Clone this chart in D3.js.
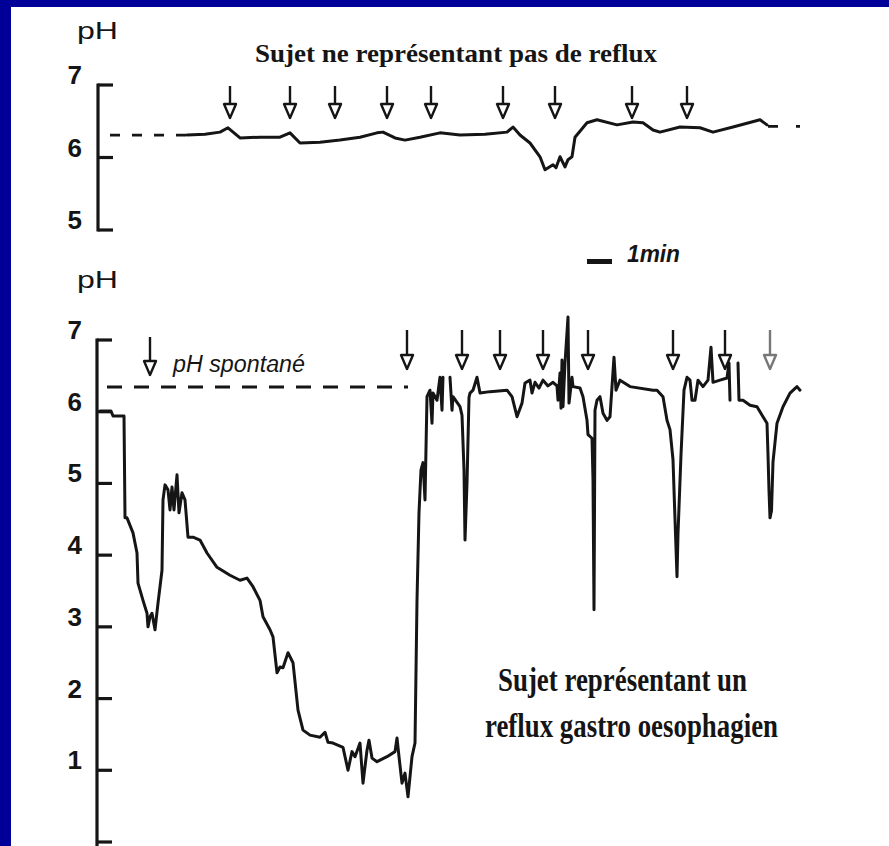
<!DOCTYPE html>
<html>
<head>
<meta charset="utf-8">
<script src="https://cdn.jsdelivr.net/npm/d3@7"></script>
<style>
  html, body { margin: 0; padding: 0; background: #fff; }
  svg { display: block; }
</style>
</head>
<body>
<svg id="chart" width="889" height="846"></svg>
<script>
// ---------------- DATA ----------------
// Top panel: subject without reflux (time in minutes, pH)
const topTime = [3.48, 4.20, 4.80, 5.12, 5.60, 6.40, 7.20, 7.60, 8.00, 8.80, 9.60, 10.40, 11.08, 11.32, 11.80, 12.20, 12.80, 13.60, 14.40, 15.40, 16.28, 16.52, 16.80, 17.20, 17.60, 17.80, 18.12, 18.24, 18.40, 18.60, 18.72, 18.88, 19.00, 19.48, 19.88, 20.68, 21.32, 21.72, 22.12, 22.40, 23.20, 24.00, 24.52, 25.32, 26.40, 26.68];
const topPH   = [6.31, 6.32, 6.35, 6.41, 6.27, 6.28, 6.28, 6.34, 6.20, 6.21, 6.24, 6.28, 6.34, 6.35, 6.27, 6.24, 6.28, 6.34, 6.31, 6.32, 6.35, 6.42, 6.31, 6.20, 6.01, 5.83, 5.90, 5.86, 6.01, 5.87, 5.97, 6.01, 6.28, 6.48, 6.52, 6.45, 6.49, 6.48, 6.38, 6.35, 6.42, 6.41, 6.35, 6.42, 6.52, 6.45];
const topArrows = [5.2, 7.6, 9.4, 11.48, 13.24, 16.12, 18.2, 21.28, 23.48];
const topSpontStart = [0.4, 3.48];
const topSpontEnd = [26.72, 28.0];
const topSpontPH = 6.31;
const topSpontEndPH = 6.43;
const topTicks = [5, 6, 7];

// Bottom panel: subject with gastro-oesophageal reflux (null = pen lifted)
const botTime = [0.00, 0.44, 0.52, 0.96, 1.00, 1.08, 1.32, 1.48, 1.52, 1.72, 1.88, 1.92, 2.00, 2.08, 2.20, 2.32, 2.48, 2.52, 2.60, 2.72, 2.80, 2.88, 2.96, 3.08, 3.16, 3.28, 3.40, 3.52, 3.72, 4.00, 4.28, 4.68, 5.20, 5.60, 5.88, 6.12, 6.40, 6.52, 6.80, 6.92, 7.08, 7.20, 7.32, 7.52, 7.72, 7.92, 8.12, 8.40, 8.80, 9.00, 9.12, 9.32, 9.72, 9.92, 10.08, 10.20, 10.40, 10.52, 10.68, 10.76, 10.88, 11.08, 11.48, 11.80, 11.88, 11.96, 12.08, 12.20, 12.32, 12.48, 12.60, 12.68, 12.76, 12.84, 12.92, 13.00, 13.08, 13.20, 13.28, 13.32, 13.48, 13.60, 13.68, 13.72, 13.86, 14.00, 14.08, 14.12, 14.40, 14.48, 14.56, 14.60, 14.68, 14.76, 14.80, 14.92, 15.08, 15.20, 15.60, 16.28, 16.48, 16.68, 16.88, 17.00, 17.20, 17.28, 17.40, 17.56, 17.72, 17.92, 18.12, 18.28, 18.32, 18.40, 18.44, 18.48, 18.52, 18.60, 18.72, 18.76, 18.88, 18.92, 19.20, 19.32, 19.48, 19.52, 19.68, 19.72, 19.76, 19.80, 19.88, 20.00, 20.12, 20.28, 20.40, 20.48, 20.56, 20.64, 20.80, 21.20, 22.12, 22.28, 22.52, 22.68, 22.80, 22.92, 23.00, 23.08, 23.12, 23.24, 23.36, 23.48, 23.60, 23.68, 23.80, 23.92, 24.12, 24.32, 24.44, 24.52, 24.80, 25.08, 25.16, 25.20, 25.36, 25.52, 25.56, 25.72, 26.00, 26.28, 26.52, 26.68, 26.72, 26.76, 26.80, 26.86, 26.92, 27.08, 27.32, 27.60, 27.88, 28.00];
const botPH   = [6.01, 6.01, 5.94, 5.94, 4.52, 4.52, 4.31, 4.03, 3.61, 3.37, 3.19, 3.00, 3.14, 3.19, 2.96, 3.33, 3.79, 4.77, 4.98, 4.91, 4.63, 4.95, 4.63, 5.12, 4.59, 4.87, 4.77, 4.25, 4.25, 4.21, 4.03, 3.83, 3.72, 3.65, 3.68, 3.56, 3.37, 3.14, 2.96, 2.86, 2.36, 2.44, 2.43, 2.64, 2.50, 1.84, 1.56, 1.49, 1.46, 1.53, 1.39, 1.38, 1.32, 1.00, 1.26, 1.19, 1.38, 0.82, 1.28, 1.42, 1.17, 1.12, 1.19, 1.26, 1.45, 1.19, 0.82, 0.96, 0.63, 1.19, 1.38, 3.37, 4.59, 5.19, 5.29, 4.77, 6.21, 6.30, 5.84, 6.26, 6.16, 6.48, 6.02, 6.48, null, 6.48, 6.02, 6.21, 6.07, 5.95, 5.19, 4.21, 5.00, 6.20, 6.26, 6.30, 6.48, 6.26, 6.28, 6.30, 6.21, 5.93, 6.12, 6.40, 6.44, 6.26, 6.41, 6.33, 6.44, 6.36, 6.41, 6.36, 6.16, 6.54, 6.05, 6.72, 6.07, 6.68, 7.32, 6.12, 6.48, 6.35, 6.33, 6.21, 5.88, 5.68, 5.63, 5.05, 3.24, 6.02, 6.16, 6.21, 5.98, 5.88, 5.93, 6.35, 6.76, 6.30, 6.44, 6.35, 6.30, 6.30, 6.21, 5.88, 5.75, 5.33, 4.50, 3.70, 4.30, 5.40, 6.30, 6.48, 6.44, 6.16, 6.16, 6.44, 6.35, 6.44, 6.90, 6.41, 6.44, 6.47, 6.68, 6.16, null, 6.68, 6.16, 6.16, 6.09, 6.07, 5.93, 5.84, 5.40, 4.90, 4.52, 4.62, 5.30, 5.84, 6.07, 6.26, 6.35, 6.30];
const botArrows = [2.0, 12.28, 14.48, 16.0, 17.72, 19.52, 22.92, 25.0, 26.8];
const botArrowGrey = [false, false, false, false, false, false, false, false, true];
const botSpont = [0.28, 12.32];
const botSpontPH = 6.345;
const botTicks = [0, 1, 2, 3, 4, 5, 6, 7];
const botTickLabels = ["", "1", "2", "3", "4", "5", "6", "7"];

const scaleBarStart = 19.48; // 1 minute bar
const titleTop = "Sujet ne représentant pas de reflux";
const titleBot = ["Sujet représentant un", "reflux gastro oesophagien"];

// ---------------- DRAW ----------------
const svg = d3.select("#chart");
const W = 889, H = 846;

svg.append("rect").attr("width", W).attr("height", H).attr("fill", "#fff");
// slide border (blue)
svg.append("rect").attr("x", 0).attr("y", 0).attr("width", W).attr("height", 7).attr("fill", "#000099");
svg.append("rect").attr("x", 0).attr("y", 0).attr("width", 11).attr("height", H).attr("fill", "#000099");

const x = d3.scaleLinear().domain([0, 31]).range([100, 875]);
const yTop = d3.scaleLinear().domain([5, 7]).range([230, 85]);
const yBot = d3.scaleLinear().domain([0, 7]).range([842, 340]);

const sansFont = "'Liberation Sans', Arial, sans-serif";
const serifFont = "'Liberation Serif', 'Times New Roman', serif";
const ink = "#151515";

// ---- axes ----
function drawAxis(scale, ticks, labels, axisX, extendTo) {
  const g = svg.append("g");
  const d = scale.domain();
  g.append("line")
    .attr("x1", axisX).attr("x2", axisX)
    .attr("y1", scale(d[1]) - 1.5).attr("y2", extendTo != null ? extendTo : scale(d[0]) + 1.5)
    .attr("stroke", ink).attr("stroke-width", 3.2);
  g.selectAll("line.tick").data(ticks).enter().append("line")
    .attr("class", "tick")
    .attr("x1", axisX).attr("x2", axisX + 15)
    .attr("y1", v => scale(v)).attr("y2", v => scale(v))
    .attr("stroke", ink).attr("stroke-width", 3.2);
  g.selectAll("text").data(ticks).enter().append("text")
    .attr("x", 82).attr("y", v => scale(v) - 1)
    .attr("text-anchor", "end")
    .attr("font-family", sansFont).attr("font-weight", "bold").attr("font-size", 26)
    .attr("fill", ink)
    .text((v, i) => labels[i]);
}
drawAxis(yTop, topTicks, topTicks.map(String), 98, null);
drawAxis(yBot, botTicks, botTickLabels, 97, 846);

// pH labels
[39, 288].forEach(by => {
  svg.append("text").attr("x", 77).attr("y", by)
    .attr("font-family", sansFont).attr("font-size", 24).attr("font-weight", 500)
    .attr("textLength", 41).attr("lengthAdjust", "spacingAndGlyphs")
    .attr("fill", ink).text("pH");
});

// ---- traces ----
const topData = topTime.map((t, i) => ({ t, ph: topPH[i] }));
const botData = botTime.map((t, i) => ({ t, ph: botPH[i] }));

const lineTop = d3.line().x(d => x(d.t)).y(d => yTop(d.ph));
const lineBot = d3.line().defined(d => d.ph !== null).x(d => x(d.t)).y(d => yBot(d.ph));

svg.append("path").datum(topData).attr("d", lineTop)
  .attr("fill", "none").attr("stroke", ink).attr("stroke-width", 3)
  .attr("stroke-linejoin", "round").attr("stroke-linecap", "round");
svg.append("path").datum(botData).attr("d", lineBot)
  .attr("fill", "none").attr("stroke", ink).attr("stroke-width", 3)
  .attr("stroke-linejoin", "round").attr("stroke-linecap", "round");

// spontaneous pH dashed lines
svg.append("line")
  .attr("x1", x(topSpontStart[0])).attr("x2", x(topSpontStart[1]))
  .attr("y1", yTop(topSpontPH)).attr("y2", yTop(topSpontPH))
  .attr("stroke", ink).attr("stroke-width", 2.8).attr("stroke-dasharray", "10,12");
svg.append("line")
  .attr("x1", x(topSpontEnd[0])).attr("x2", x(topSpontEnd[1]))
  .attr("y1", yTop(topSpontEndPH)).attr("y2", yTop(topSpontEndPH))
  .attr("stroke", ink).attr("stroke-width", 2.8).attr("stroke-dasharray", "10,18");
svg.append("line")
  .attr("x1", x(botSpont[0])).attr("x2", x(botSpont[1]))
  .attr("y1", yBot(botSpontPH)).attr("y2", yBot(botSpontPH))
  .attr("stroke", ink).attr("stroke-width", 3).attr("stroke-dasharray", "15,12");

// ---- arrows ----
function drawArrow(cx, top, tip, color) {
  const g = svg.append("g").attr("stroke", color).attr("fill", "#fff").attr("stroke-width", 2.4);
  g.append("line").attr("x1", cx).attr("x2", cx).attr("y1", top).attr("y2", tip - 13);
  g.append("path")
    .attr("d", `M${cx - 6},${tip - 14} L${cx + 6},${tip - 14} L${cx},${tip} Z`)
    .attr("stroke-linejoin", "round");
}
topArrows.forEach(t => drawArrow(x(t), 86, 118, ink));
botArrows.forEach((t, i) => drawArrow(x(t), i === 0 ? 337 : 330, i === 0 ? 375 : 369, botArrowGrey[i] ? "#777" : ink));

// ---- scale bar ----
svg.append("rect")
  .attr("x", x(scaleBarStart)).attr("y", 259)
  .attr("width", x(scaleBarStart + 1) - x(scaleBarStart)).attr("height", 5)
  .attr("fill", ink);
svg.append("text").attr("x", 627).attr("y", 262)
  .attr("font-family", sansFont).attr("font-style", "italic").attr("font-weight", "bold")
  .attr("font-size", 23).attr("textLength", 53).attr("lengthAdjust", "spacingAndGlyphs")
  .attr("fill", ink).text("1min");

// ---- texts ----
svg.append("text").attr("x", 173).attr("y", 372)
  .attr("font-family", sansFont).attr("font-style", "italic").attr("font-weight", 500)
  .attr("font-size", 23).attr("textLength", 132).attr("lengthAdjust", "spacingAndGlyphs")
  .attr("fill", ink).text("pH spontané");

svg.append("text").attr("x", 255).attr("y", 62)
  .attr("font-family", serifFont).attr("font-weight", "bold")
  .attr("font-size", 26).attr("textLength", 402).attr("lengthAdjust", "spacingAndGlyphs")
  .attr("fill", ink).text(titleTop);

svg.append("text").attr("x", 498).attr("y", 691)
  .attr("font-family", serifFont).attr("font-weight", "bold")
  .attr("font-size", 33).attr("textLength", 249).attr("lengthAdjust", "spacingAndGlyphs")
  .attr("fill", ink).text(titleBot[0]);
svg.append("text").attr("x", 485).attr("y", 737)
  .attr("font-family", serifFont).attr("font-weight", "bold")
  .attr("font-size", 33).attr("textLength", 293).attr("lengthAdjust", "spacingAndGlyphs")
  .attr("fill", ink).text(titleBot[1]);
</script>
</body>
</html>
